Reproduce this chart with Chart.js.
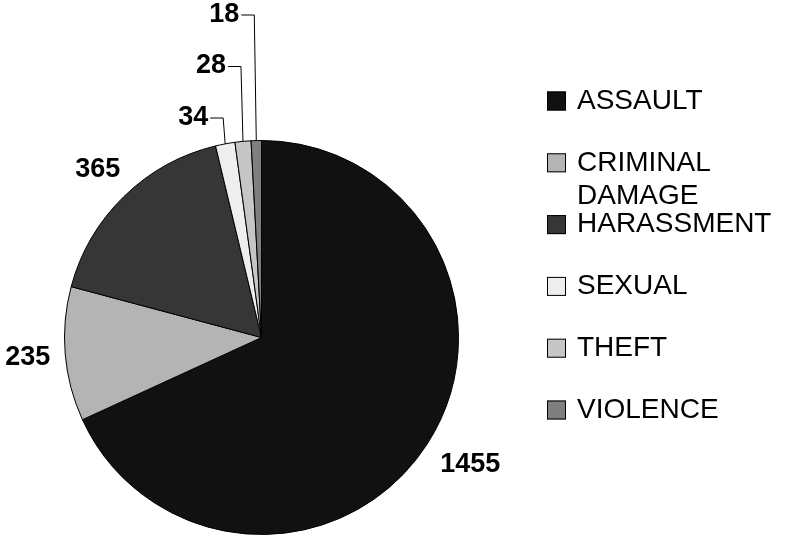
<!DOCTYPE html>
<html>
<head>
<meta charset="utf-8">
<script src="https://cdn.jsdelivr.net/npm/chart.js@4/dist/chart.umd.min.js"></script>
<style>
html, body { margin: 0; padding: 0; background: #fff; }
</style>
</head>
<body>
<canvas id="pieChart" width="787" height="537"></canvas>
<script>
var categories = ['ASSAULT', 'CRIMINAL DAMAGE', 'HARASSMENT', 'SEXUAL', 'THEFT', 'VIOLENCE'];
var incidents = [1455, 235, 365, 34, 28, 18];
var sliceColors = ['#111111', '#b4b4b4', '#363636', '#eeeeee', '#c6c6c6', '#7f7f7f'];

var FONT = '"Liberation Sans", Arial, sans-serif';

// value labels, small slices get leader lines stacked upwards
var pieLabels = {
    id: 'pieLabels',
    afterDatasetsDraw: function (chart) {
        var ctx = chart.ctx;
        var meta = chart.getDatasetMeta(0);
        var small = 0;
        ctx.save();
        ctx.font = 'bold 27px ' + FONT;
        ctx.fillStyle = '#000';
        ctx.strokeStyle = '#000';
        ctx.lineWidth = 1;
        ctx.textBaseline = 'middle';
        meta.data.forEach(function (arc, i) {
            var p = arc.getProps(['x', 'y', 'startAngle', 'endAngle', 'outerRadius'], true);
            var mid = (p.startAngle + p.endAngle) / 2;
            var cos = Math.cos(mid), sin = Math.sin(mid);
            var text = String(incidents[i]);
            var w = ctx.measureText(text).width;
            var share = (p.endAngle - p.startAngle) / (2 * Math.PI);
            if (share > 0.05) {
                var ax = p.x + cos * (p.outerRadius + 15);
                var ay = p.y + sin * (p.outerRadius + 15);
                ctx.textAlign = 'center';
                ctx.fillText(text, ax + cos * w / 2 + (cos > 0 ? 5 : 0), ay + sin * 23);
            } else {
                var ex = p.x + cos * p.outerRadius;
                var ey = p.y + sin * p.outerRadius;
                var ky = p.y - p.outerRadius - 23 - small * 51.5;
                var kx = ex - 2;
                ctx.beginPath();
                ctx.moveTo(ex, ey);
                ctx.lineTo(kx, ky + 0.5);
                ctx.lineTo(kx - 13, ky + 0.5);
                ctx.stroke();
                ctx.textAlign = 'right';
                ctx.fillText(text, kx - 15, ky);
                small++;
            }
        });
        ctx.restore();
    }
};

// legend on the right, long names wrap onto a second line
var sideLegend = {
    id: 'sideLegend',
    afterDraw: function (chart) {
        var ctx = chart.ctx;
        var colors = chart.data.datasets[0].backgroundColor;
        var x = 547, textX = 577, y0 = 101, step = 61.8, maxW = 208;
        ctx.save();
        ctx.font = '28px ' + FONT;
        ctx.textBaseline = 'middle';
        ctx.textAlign = 'left';
        chart.data.labels.forEach(function (label, i) {
            var y = y0 + i * step;
            ctx.fillStyle = colors[i];
            ctx.fillRect(x, y - 9.5, 19, 19);
            ctx.strokeStyle = '#000';
            ctx.lineWidth = 1;
            ctx.strokeRect(x + 0.5, y - 9, 18, 18);

            var lines = [], cur = '';
            label.split(' ').forEach(function (word) {
                var test = cur ? cur + ' ' + word : word;
                if (cur && ctx.measureText(test).width > maxW) {
                    lines.push(cur);
                    cur = word;
                } else {
                    cur = test;
                }
            });
            lines.push(cur);
            ctx.fillStyle = '#000';
            lines.forEach(function (line, j) {
                ctx.fillText(line, textX, y + j * 33);
            });
        });
        ctx.restore();
    }
};

var ctx = document.getElementById('pieChart').getContext('2d');
var chart = new Chart(ctx, {
    type: 'pie',
    data: {
        labels: categories,
        datasets: [{
            data: incidents,
            backgroundColor: sliceColors,
            borderColor: '#000',
            borderWidth: 1
        }]
    },
    options: {
        responsive: false,
        animation: false,
        layout: { padding: { left: 64, top: 140, right: 328, bottom: 2 } },
        plugins: {
            legend: { display: false },
            tooltip: { enabled: false }
        }
    },
    plugins: [pieLabels, sideLegend]
});
</script>
</body>
</html>
